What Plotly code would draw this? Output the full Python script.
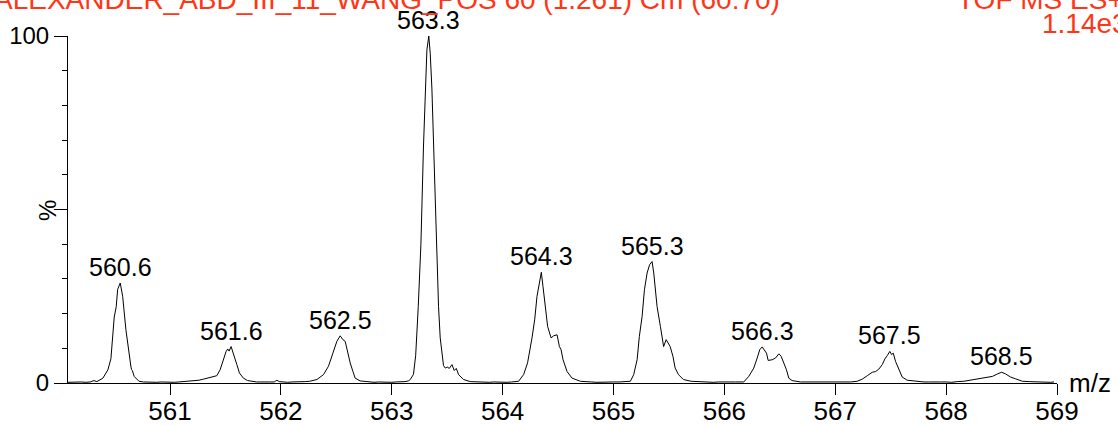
import plotly.graph_objects as go

# Profile spectrum (m/z vs relative intensity, %)
mz = [
    560.080, 560.120, 560.160, 560.200, 560.240, 560.280, 560.314, 560.340, 560.395, 560.440,
    560.467, 560.485, 560.497, 560.515, 560.528, 560.551, 560.573, 560.602, 560.632, 560.648,
    560.654, 560.660, 560.677, 560.720, 560.760, 560.800, 560.840, 560.880, 560.920, 560.960,
    561.000, 561.040, 561.080, 561.120, 561.170,
    561.211, 561.260, 561.301, 561.340, 561.377, 561.422, 561.452, 561.482, 561.506, 561.521,
    561.533, 561.551, 561.572, 561.603, 561.626, 561.662, 561.700, 561.740, 561.780, 561.820,
    561.860, 561.900, 561.940, 561.964, 561.985, 562.020, 562.060, 562.100, 562.140, 562.180,
    562.220, 562.260, 562.300,
    562.325, 562.384, 562.429, 562.469, 562.505, 562.535, 562.559, 562.580, 562.601, 562.625,
    562.650, 562.670, 562.715, 562.760, 562.800, 562.840, 562.880, 562.920, 562.960, 563.000,
    563.040, 563.080, 563.120, 563.150,
    563.167, 563.196, 563.216, 563.239, 563.263, 563.286, 563.305, 563.317, 563.334, 563.347,
    563.362, 563.377, 563.392, 563.408, 563.422, 563.437, 563.453, 563.467, 563.483, 563.501,
    563.519, 563.543, 563.564, 563.582, 563.603, 563.648, 563.708, 563.760, 563.800, 563.840,
    563.880, 563.920, 563.960, 564.000, 564.040, 564.080, 564.110,
    564.144, 564.189, 564.225, 564.265, 564.289, 564.310, 564.328, 564.349, 564.364, 564.385,
    564.406, 564.437, 564.460, 564.491, 564.512, 564.527, 564.545, 564.581, 564.626, 564.701,
    564.750, 564.800, 564.850, 564.900, 564.950, 565.000, 565.050, 565.100,
    565.152, 565.182, 565.213, 565.233, 565.258, 565.279, 565.303, 565.326, 565.348, 565.363,
    565.378, 565.393, 565.423, 565.452, 565.475, 565.496, 565.511, 565.536, 565.556, 565.586,
    565.631, 565.700, 565.752, 565.800, 565.850, 565.900, 565.950, 566.000, 566.050, 566.100,
    566.140,
    566.175, 566.220, 566.265, 566.296, 566.319, 566.341, 566.362, 566.380, 566.395, 566.431,
    566.461, 566.491, 566.512, 566.536, 566.560, 566.581, 566.611, 566.686, 566.750, 566.800,
    566.850, 566.900, 566.950, 567.000, 567.050, 567.100,
    567.138, 567.198, 567.243, 567.289, 567.334, 567.364, 567.393, 567.424, 567.447, 567.469,
    567.492, 567.508, 567.523, 567.544, 567.574, 567.604, 567.649, 567.740, 567.800, 567.850,
    567.900, 567.950, 568.000, 568.050, 568.100,
    568.160, 568.251, 568.341, 568.417, 568.462, 568.501, 568.537, 568.582, 568.627, 568.688,
    568.750, 568.800, 568.853, 568.900, 568.940, 568.973,
]

intensity = [
    0.2, 0.3, 0.2, 0.3, 0.2, 0.3, 0.7, 0.4, 1.4, 3.8,
    7.0, 14.0, 19.0, 22.0, 27.0, 28.8, 25.0, 15.4, 7.7, 4.6,
    3.8, 3.6, 1.9, 0.5, 0.3, 0.2, 0.3, 0.2, 0.3, 0.2,
    0.3, 0.2, 0.3, 0.4, 0.5,
    0.6, 0.8, 1.1, 1.4, 1.7, 2.1, 3.8, 6.7, 9.1, 9.8,
    9.2, 10.5, 8.6, 5.3, 2.9, 1.4, 0.7, 0.4, 0.3, 0.3,
    0.2, 0.3, 0.3, 0.8, 0.4, 0.3, 0.2, 0.3, 0.3, 0.2,
    0.4, 0.5, 0.7,
    1.0, 2.4, 4.8, 8.6, 12.0, 13.6, 12.5, 12.0, 9.1, 5.8,
    3.3, 1.4, 0.6, 0.4, 0.3, 0.2, 0.3, 0.2, 0.3, 0.2,
    0.3, 0.3, 0.4, 0.6,
    1.0, 2.5, 8.0, 22.0, 40.0, 68.0, 88.0, 96.0, 100.0, 95.0,
    85.0, 70.0, 50.0, 33.0, 22.0, 13.0, 7.5, 5.0, 4.3, 4.6,
    4.2, 5.3, 3.6, 4.2, 2.4, 1.0, 0.4, 0.3, 0.4, 0.3,
    0.2, 0.3, 0.2, 0.3, 0.2, 0.3, 0.4,
    0.5, 2.4, 5.8, 13.0, 18.2, 25.0, 27.8, 31.9, 27.8, 21.1,
    16.3, 13.0, 13.6, 13.9, 10.5, 9.6, 6.7, 3.3, 1.4, 0.5,
    0.3, 0.3, 0.2, 0.3, 0.2, 0.3, 0.3, 0.4,
    0.5, 2.4, 6.7, 13.4, 19.2, 26.9, 31.7, 34.1, 35.0, 31.7,
    26.4, 22.0, 16.3, 10.5, 12.5, 11.5, 10.5, 7.7, 4.3, 2.4,
    1.0, 0.5, 0.4, 0.3, 0.3, 0.2, 0.3, 0.2, 0.3, 0.3,
    0.3,
    0.3, 1.9, 4.3, 7.2, 9.6, 10.4, 9.4, 8.6, 6.5, 6.7,
    7.2, 8.4, 7.7, 5.8, 3.8, 1.4, 0.7, 0.3, 0.3, 0.2,
    0.3, 0.2, 0.3, 0.2, 0.3, 0.3,
    0.3, 0.5, 1.1, 2.1, 3.1, 3.3, 4.0, 5.3, 6.9, 7.9,
    9.1, 8.2, 8.6, 6.2, 3.8, 1.7, 0.8, 0.4, 0.3, 0.3,
    0.2, 0.3, 0.3, 0.2, 0.4,
    0.5, 1.0, 1.4, 1.9, 2.6, 3.1, 2.6, 1.7, 1.2, 0.5,
    0.4, 0.3, 0.4, 0.3, 0.2, 0.3,
]

peak_labels = ["560.6", "561.6", "562.5", "563.3", "564.3", "565.3", "566.3", "567.5", "568.5"]

x_ticks = [561, 562, 563, 564, 565, 566, 567, 568, 569]
x_tick_labels = ["561", "562", "563", "564", "565", "566", "567", "568", "569"]
y_ticks = [0, 50, 100]
y_tick_labels = ["0", "", "100"]

header_left = "ALEXANDER_ABD_III_11_WANG_POS 60 (1.261) Cm (60:70)"
header_right = "TOF MS ES+"
header_intensity = "1.14e3"

FONT = "Liberation Sans, Arial, sans-serif"
RED = "#ff3516"

fig = go.Figure()
fig.add_trace(go.Scatter(
    x=mz, y=intensity, mode="lines",
    line=dict(color="black", width=1),
    hoverinfo="skip", showlegend=False,
))

# Label each peak at its apex
annotations = []
for lab in peak_labels:
    centre = float(lab)
    idx = [i for i, m in enumerate(mz) if abs(m - centre) < 0.2]
    top = max(idx, key=lambda i: intensity[i])
    annotations.append(dict(
        x=mz[top], y=intensity[top], xref="x", yref="y",
        text=lab, showarrow=False, yanchor="bottom", xanchor="center",
        yshift=0, font=dict(family=FONT, size=25, color="black"),
    ))

annotations += [
    dict(x=1.01, y=0.0, xref="paper", yref="paper", text="m/z", showarrow=False,
         xanchor="left", yanchor="middle", font=dict(family=FONT, size=26, color="black")),
    dict(x=-0.020, y=0.496, xref="paper", yref="paper", text="%", showarrow=False,
         textangle=-90, xanchor="center", yanchor="middle",
         font=dict(family=FONT, size=24, color="black")),
    dict(x=-0.0768, y=1.104, xref="paper", yref="paper", text=header_left, showarrow=False,
         xanchor="left", yanchor="middle", font=dict(family=FONT, size=28, color=RED)),
    dict(x=0.8969, y=1.104, xref="paper", yref="paper", text=header_right, showarrow=False,
         xanchor="left", yanchor="middle", font=dict(family=FONT, size=28, color=RED)),
    dict(x=0.9828, y=1.035, xref="paper", yref="paper", text=header_intensity, showarrow=False,
         xanchor="left", yanchor="middle", font=dict(family=FONT, size=28, color=RED)),
]

fig.update_layout(
    width=1118, height=425,
    margin=dict(l=68, r=61, t=36, b=42, pad=0, autoexpand=False),
    paper_bgcolor="white", plot_bgcolor="white",
    annotations=annotations,
    xaxis=dict(
        range=[560.08, 569.0], showgrid=False, zeroline=False, automargin=False,
        showline=True, linecolor="black", linewidth=1,
        ticks="outside", ticklen=11, tickcolor="black", tickwidth=1,
        tickvals=x_ticks, ticktext=x_tick_labels, ticklabelstandoff=-6,
        tickfont=dict(family=FONT, size=26, color="black"),
    ),
    yaxis=dict(
        range=[0, 100], showgrid=False, zeroline=False, automargin=False,
        showline=True, linecolor="black", linewidth=1,
        ticks="outside", ticklen=13, tickcolor="black", tickwidth=1,
        tickvals=y_ticks, ticktext=y_tick_labels,
        tickfont=dict(family=FONT, size=24, color="black"),
        minor=dict(ticks="outside", ticklen=5, dtick=10, tickcolor="black", showgrid=False),
    ),
)

fig.write_html("out.html")
